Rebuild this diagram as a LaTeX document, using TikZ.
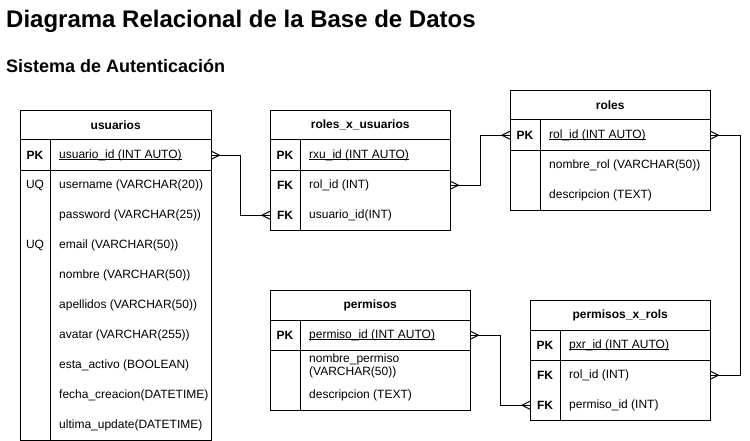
\documentclass[tikz,border=0pt]{standalone}
\usepackage{fontspec}
\setmainfont{Liberation Sans}
\usetikzlibrary{calc}
\newcommand{\crowft}[2]{\draw[conn] ($(#1)+({#2*8},0)$) -- ($(#1)+(0,-4)$) ($(#1)+({#2*8},0)$) -- ($(#1)+(0,4)$);}
\newcommand{\ulx}[1]{\setbox0\hbox{#1}\rlap{\rule[-1.9pt]{\wd0}{0.9pt}}\box0}
\begin{document}
\begin{tikzpicture}[x=1pt,y=-1pt,
  tbl/.style={draw, line width=1pt, rectangle, inner sep=0pt, anchor=north west},
  rowbox/.style={rectangle, inner sep=0pt, anchor=north west, minimum height=30pt},
  ftxt/.style={anchor=west, inner sep=0pt, font=\fontsize{12}{14}\selectfont},
  pktxt/.style={anchor=west, inner sep=0pt, font=\fontsize{12}{14}\selectfont},
  keytxt/.style={anchor=center, inner sep=0pt, font=\fontsize{12}{14}\selectfont\bfseries},
  uqtxt/.style={anchor=center, inner sep=0pt, font=\fontsize{12}{14}\selectfont},
  hdr/.style={anchor=center, inner sep=0pt, font=\fontsize{12}{14}\selectfont\bfseries},
  sepl/.style={line width=1pt},
  conn/.style={line width=1pt}
]
\useasboundingbox (0,0) rectangle (750,441);
\fill[white] (0,0) rectangle (750,441);

% titles
\node[anchor=base west, inner sep=0pt, font=\fontsize{24}{28}\selectfont\bfseries] (title) at (6,28) {Diagrama Relacional de la Base de Datos};
\node[anchor=base west, inner sep=0pt, font=\fontsize{18}{20}\selectfont\bfseries] (subtitle) at (6,73) {Sistema de Autenticación};

% ---------------- usuarios
\node[tbl, minimum width=191pt, minimum height=330pt] (usuarios) at (20,110) {};
\node[rowbox, minimum width=191pt] (u-h) at (20,110) {};
\node[hdr] at (u-h.center) {usuarios};
\node[rowbox, minimum width=191pt] (u-pk) at (20,140) {};
\draw[sepl] (u-pk.north west) -- (u-pk.north east);
\draw[sepl] (u-pk.south west) -- (u-pk.south east);
\draw[sepl] (50,140) -- (50,440);
\node[keytxt] (u-pkk) at (35,155) {PK};
\node[pktxt] (u-pkf) at (59,155) {\ulx{usuario\_id (INT AUTO)}};
\node[uqtxt] (u-uq1) at (35,185) {UQ};
\node[ftxt] (u-f1) at (59,185) {username (VARCHAR(20))};
\node[ftxt] (u-f2) at (59,215) {password (VARCHAR(25))};
\node[uqtxt] (u-uq2) at (35,245) {UQ};
\node[ftxt] (u-f3) at (59,245) {email (VARCHAR(50))};
\node[ftxt] (u-f4) at (59,275) {nombre (VARCHAR(50))};
\node[ftxt] (u-f5) at (59,305) {apellidos (VARCHAR(50))};
\node[ftxt] (u-f6) at (59,335) {avatar (VARCHAR(255))};
\node[ftxt] (u-f7) at (59,365) {esta\_activo (BOOLEAN)};
\node[ftxt] (u-f8) at (59,395) {fecha\_creacion(DATETIME)};
\node[ftxt] (u-f9) at (59,425) {ultima\_update(DATETIME)};

% ---------------- roles_x_usuarios
\node[tbl, minimum width=180pt, minimum height=120pt] (rxu) at (270,110) {};
\node[rowbox, minimum width=180pt] (rxu-h) at (270,110) {};
\node[hdr] at (rxu-h.center) {roles\_x\_usuarios};
\node[rowbox, minimum width=180pt] (rxu-pk) at (270,140) {};
\node[rowbox, minimum width=180pt] (rxu-rol) at (270,170) {};
\node[rowbox, minimum width=180pt] (rxu-usu) at (270,200) {};
\draw[sepl] (rxu-pk.north west) -- (rxu-pk.north east);
\draw[sepl] (rxu-pk.south west) -- (rxu-pk.south east);
\draw[sepl] (300,140) -- (300,230);
\node[keytxt] at (285,155) {PK};
\node[pktxt] at (309,155) {\ulx{rxu\_id (INT AUTO)}};
\node[keytxt] at (285,185) {FK};
\node[ftxt] at (309,185) {rol\_id (INT)};
\node[keytxt] at (285,215) {FK};
\node[ftxt] at (309,215) {usuario\_id(INT)};

% ---------------- roles
\node[tbl, minimum width=200pt, minimum height=120pt] (roles) at (510,90) {};
\node[rowbox, minimum width=200pt] (r-h) at (510,90) {};
\node[hdr] at (r-h.center) {roles};
\node[rowbox, minimum width=200pt] (r-pk) at (510,120) {};
\draw[sepl] (r-pk.north west) -- (r-pk.north east);
\draw[sepl] (r-pk.south west) -- (r-pk.south east);
\draw[sepl] (540,120) -- (540,210);
\node[keytxt] at (525,135) {PK};
\node[pktxt] at (549,135) {\ulx{rol\_id (INT AUTO)}};
\node[ftxt] at (549,165) {nombre\_rol (VARCHAR(50))};
\node[ftxt] at (549,195) {descripcion (TEXT)};

% ---------------- permisos
\node[tbl, minimum width=200pt, minimum height=120pt] (permisos) at (270,290) {};
\node[rowbox, minimum width=200pt] (p-h) at (270,290) {};
\node[hdr] at (p-h.center) {permisos};
\node[rowbox, minimum width=200pt] (p-pk) at (270,320) {};
\draw[sepl] (p-pk.north west) -- (p-pk.north east);
\draw[sepl] (p-pk.south west) -- (p-pk.south east);
\draw[sepl] (300,320) -- (300,410);
\node[keytxt] at (285,335) {PK};
\node[pktxt] at (309,335) {\ulx{permiso\_id (INT AUTO)}};
\node[ftxt, align=left, font=\fontsize{12}{13}\selectfont] at (309,366) {nombre\_permiso\\(VARCHAR(50))};
\node[ftxt] at (309,395) {descripcion (TEXT)};

% ---------------- permisos_x_rols
\node[tbl, minimum width=180pt, minimum height=120pt] (pxr) at (530,300) {};
\node[rowbox, minimum width=180pt] (pxr-h) at (530,300) {};
\node[hdr] at (pxr-h.center) {permisos\_x\_rols};
\node[rowbox, minimum width=180pt] (pxr-pk) at (530,330) {};
\node[rowbox, minimum width=180pt] (pxr-rol) at (530,360) {};
\node[rowbox, minimum width=180pt] (pxr-perm) at (530,390) {};
\draw[sepl] (pxr-pk.north west) -- (pxr-pk.north east);
\draw[sepl] (pxr-pk.south west) -- (pxr-pk.south east);
\draw[sepl] (560,330) -- (560,420);
\node[keytxt] at (545,345) {PK};
\node[pktxt] at (569,345) {\ulx{pxr\_id (INT AUTO)}};
\node[keytxt] at (545,375) {FK};
\node[ftxt] at (569,375) {rol\_id (INT)};
\node[keytxt] at (545,405) {FK};
\node[ftxt] at (569,405) {permiso\_id (INT)};

% ---------------- connectors
\draw[conn] (u-pk.east) -- ++(29,0) |- (rxu-usu.west);
\crowft{u-pk.east}{1}
\crowft{rxu-usu.west}{-1}

\draw[conn] (rxu-rol.east) -- ++(30,0) |- (r-pk.west);
\crowft{rxu-rol.east}{1}
\crowft{r-pk.west}{-1}

\draw[conn] (r-pk.east) -- ++(30,0) |- (pxr-rol.east);
\crowft{r-pk.east}{1}
\crowft{pxr-rol.east}{1}

\draw[conn] (p-pk.east) -- ++(30,0) |- (pxr-perm.west);
\crowft{p-pk.east}{1}
\crowft{pxr-perm.west}{-1}
\end{tikzpicture}
\end{document}
